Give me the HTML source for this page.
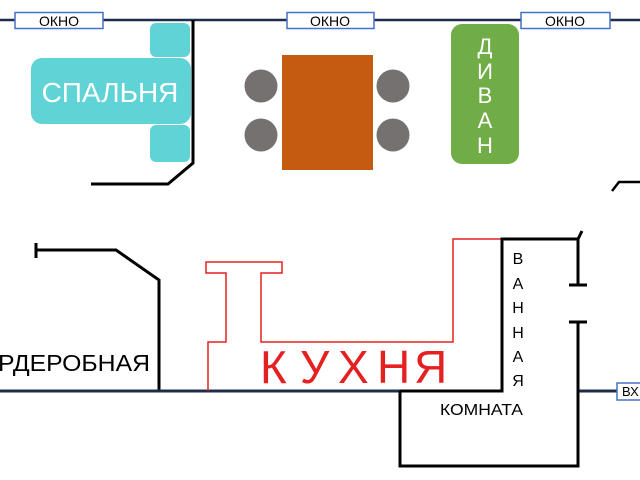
<!DOCTYPE html>
<html><head><meta charset="utf-8"><style>
html,body{margin:0;padding:0;background:#fff;}
svg{display:block;}
</style></head><body>
<svg width="640" height="480" viewBox="0 0 640 480" xmlns="http://www.w3.org/2000/svg" font-family="Liberation Sans, DejaVu Sans, sans-serif">
<line x1="0" y1="20" x2="640" y2="20" stroke="#1f2d4d" stroke-width="2.5"/>
<g fill="#fff" stroke="#4472c4" stroke-width="1.5">
<rect x="15" y="12.5" width="88" height="16"/>
<rect x="287" y="12.5" width="87" height="16"/>
<rect x="521" y="12.5" width="89" height="16"/>
</g>
<g font-size="14" fill="#000" text-anchor="middle">
<text x="59" y="26">ОКНО</text>
<text x="330" y="26">ОКНО</text>
<text x="565" y="26">ОКНО</text>
</g>
<rect x="150" y="23" width="40" height="34" rx="6" fill="#5fd3d6"/>
<rect x="150" y="125" width="40" height="37" rx="6" fill="#5fd3d6"/>
<rect x="31" y="58" width="160" height="66" rx="11" fill="#5fd3d6"/>
<text x="110" y="102" font-size="28" fill="#fff" text-anchor="middle">СПАЛЬНЯ</text>
<polyline points="193,20 193,163 168,184 91,184" fill="none" stroke="#000" stroke-width="3"/>
<rect x="282" y="55" width="91" height="115" fill="#c55a11"/>
<g fill="#767171">
<circle cx="261" cy="86" r="16.5"/><circle cx="261" cy="135" r="16.5"/>
<circle cx="393" cy="86" r="16.5"/><circle cx="393" cy="135" r="16.5"/>
</g>
<rect x="451" y="24" width="68" height="140" rx="11" fill="#70ad47"/>
<g font-size="22" fill="#fff" text-anchor="middle">
<text x="485" y="54">Д</text><text x="485" y="79">И</text><text x="485" y="103">В</text><text x="485" y="128">А</text><text x="485" y="153">Н</text>
</g>
<polyline points="612,191 619,182 640,182" fill="none" stroke="#000" stroke-width="2.5"/>
<line x1="36" y1="243" x2="36" y2="258" stroke="#000" stroke-width="3"/>
<polyline points="36,250 116,250 159,280 159,391" fill="none" stroke="#000" stroke-width="3"/>
<text x="-2" y="371" font-size="23" fill="#000" textLength="152" lengthAdjust="spacingAndGlyphs">РДЕРОБНАЯ</text>
<line x1="0" y1="391" x2="400" y2="391" stroke="#1f2d4d" stroke-width="3"/>
<line x1="578" y1="391" x2="617" y2="391" stroke="#1f2d4d" stroke-width="3"/>
<rect x="617" y="383" width="30" height="17" fill="#fff" stroke="#4472c4" stroke-width="1.5"/>
<text x="622" y="396" font-size="13" fill="#000">ВХ</text>
<polyline points="208,391 208,342 226,342 226,273 206,273 206,262 282,262 282,273 261,273 261,342 453,342 453,239 502,239" fill="none" stroke="#e52020" stroke-width="1.5"/>
<g font-size="46" fill="#e52020">
<text x="260" y="383">К</text><text x="300" y="383">У</text><text x="338" y="383">Х</text><text x="377" y="383">Н</text><text x="414" y="383">Я</text>
</g>
<polyline points="400,391 502,391 502,239 578,239 582,231" fill="none" stroke="#000" stroke-width="3"/>
<line x1="578" y1="239" x2="578" y2="285" stroke="#000" stroke-width="3"/>
<line x1="569" y1="285" x2="587" y2="285" stroke="#000" stroke-width="3"/>
<line x1="569" y1="322" x2="587" y2="322" stroke="#000" stroke-width="3"/>
<polyline points="578,322 578,466 400,466 400,391" fill="none" stroke="#000" stroke-width="3"/>
<g font-size="16" fill="#000" text-anchor="middle">
<text x="518" y="264">В</text><text x="518" y="289">А</text><text x="518" y="313">Н</text><text x="518" y="338">Н</text><text x="518" y="362">А</text><text x="518" y="386">Я</text>
</g>
<text x="440" y="415" font-size="16" fill="#000" textLength="83" lengthAdjust="spacingAndGlyphs">КОМНАТА</text>
</svg>
</body></html>
